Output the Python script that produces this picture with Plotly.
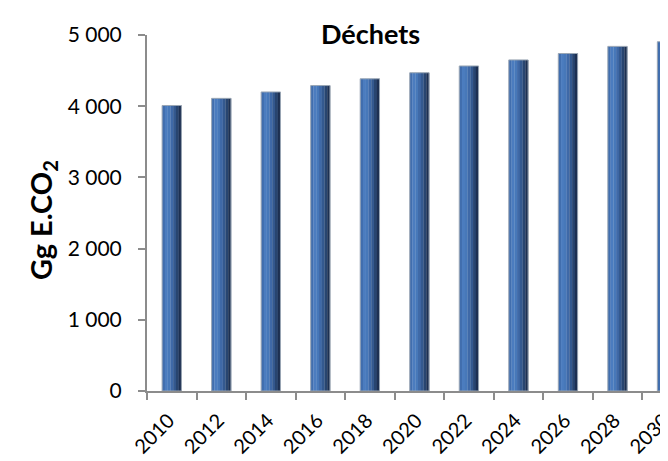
import plotly.graph_objects as go

years = ["2010", "2012", "2014", "2016", "2018", "2020", "2022", "2024", "2026", "2028", "2030"]
values = [4010, 4110, 4200, 4290, 4385, 4470, 4565, 4650, 4740, 4840, 4905]
ytick_vals = [0, 1000, 2000, 3000, 4000, 5000]
ytick_text = ["0", "1 000", "2 000", "3 000", "4 000", "5 000"]
title_text = "Déchets"
ytitle_text = "Gg E.CO<sub>2</sub>"

FONT = "Lato, 'Open Sans', sans-serif"
BAR_W = 0.39
stripe_colors = ["#416eae", "#4b7cbf", "#4778b9", "#3f69a7", "#34598f", "#284570", "#1d3052"]

fig = go.Figure()
n = len(stripe_colors)
sw = BAR_W / n
for i, c in enumerate(stripe_colors):
    fig.add_trace(go.Bar(
        x=years, y=values, width=sw * 1.08, offset=-BAR_W / 2 + i * sw,
        marker=dict(color=c, line=dict(width=0)), showlegend=False, hoverinfo="skip"))
# outline
fig.add_trace(go.Bar(
    x=years, y=values, width=BAR_W, offset=-BAR_W / 2,
    marker=dict(color="rgba(0,0,0,0)", line=dict(color="#9aa6b4", width=1)),
    showlegend=False))

# page has an 8px body margin; compensate so the plot area lands at the reference pixels
PAD = 8
W, H = 668 - PAD, 461 - PAD
L, R, T, B = 147 - PAD, 0, 35 - PAD, 70
pw, ph = W - L - R, H - T - B

fig.update_layout(
    width=W, height=H, barmode="overlay",
    margin=dict(l=L, r=R, t=T, b=B, autoexpand=False),
    paper_bgcolor="white", plot_bgcolor="white",
    font=dict(family=FONT, size=20, color="#000000"),
    xaxis=dict(type="category", range=[-0.5, 10.02], showline=True, linecolor="#8c8c8c", linewidth=2,
               ticks="outside", tickson="boundaries", ticklen=7, tickcolor="#8c8c8c", tickwidth=2,
               tickangle=-45, showgrid=False, tickfont=dict(size=20), automargin=False,
               ticklabelshift=-3, ticklabelstandoff=8),
    yaxis=dict(range=[0, 5000], tickvals=ytick_vals, ticktext=ytick_text, showline=True,
               linecolor="#8c8c8c", linewidth=2, ticks="outside", ticklen=7, tickcolor="#8c8c8c",
               tickwidth=2, showgrid=False, zeroline=False, tickfont=dict(size=21),
               automargin=False, ticklabelstandoff=12),
    annotations=[
        dict(text="<b>" + title_text + "</b>", xref="paper", yref="paper",
             x=(370 - 147) / pw, y=(391 - 33) / ph, xanchor="center", yanchor="middle",
             showarrow=False, font=dict(size=27, family=FONT)),
        dict(text="<b>" + ytitle_text + "</b>", xref="paper", yref="paper",
             x=(42 - 147) / pw, y=(391 - 220) / ph, xanchor="center", yanchor="middle",
             textangle=-90, showarrow=False, font=dict(size=29, family=FONT)),
    ],
)

fig.write_html("out.html")
